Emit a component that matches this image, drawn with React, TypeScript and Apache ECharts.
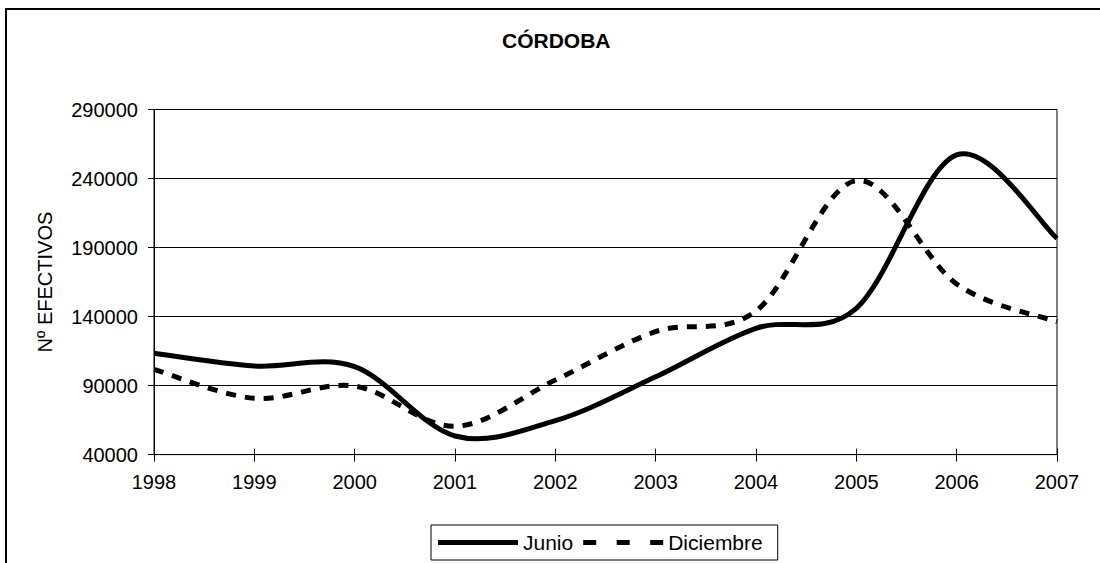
import React, { useEffect, useRef } from 'react';
import * as echarts from 'echarts';

const years = ['1998', '1999', '2000', '2001', '2002', '2003', '2004', '2005', '2006', '2007'];
const junio = [113400, 104200, 103700, 53500, 64600, 96400, 131500, 146000, 257100, 196700];
const diciembre = [101800, 80800, 89700, 60500, 94000, 129100, 144000, 238500, 163600, 136300];
const yMin = 40000;
const yMax = 290000;
const yStep = 50000;
const seriesNames = ['Junio', 'Diciembre'];
const titleText = 'CÓRDOBA';
const yName = 'Nº EFECTIVOS';

const FONT = '"Liberation Sans", Arial, Helvetica, sans-serif';

// Excel-like smoothed line (Catmull-Rom spline through the data points),
// positioned through the chart's own scales via api.coord.
function makeRender(vals: number[], dash: number[] | null) {
  return (params: any, api: any) => {
    if (params.dataIndex !== 0) return null;
    const pts = vals.map((v, k) => api.coord([k, v]));
    const n = pts.length;
    const P = (k: number) => pts[Math.max(0, Math.min(n - 1, k))];
    let d = `M${pts[0][0]},${pts[0][1]}`;
    for (let i = 0; i < n - 1; i++) {
      const p0 = P(i - 1);
      const p1 = P(i);
      const p2 = P(i + 1);
      const p3 = P(i + 2);
      const c1x = p1[0] + (p2[0] - p0[0]) / 6;
      const c1y = p1[1] + (p2[1] - p0[1]) / 6;
      const c2x = p2[0] - (p3[0] - p1[0]) / 6;
      const c2y = p2[1] - (p3[1] - p1[1]) / 6;
      d += ` C${c1x},${c1y} ${c2x},${c2y} ${p2[0]},${p2[1]}`;
    }
    const style: any = { fill: 'none', stroke: '#000', lineWidth: 5, lineCap: 'butt' };
    if (dash) style.lineDash = dash;
    return { type: 'path', shape: { pathData: d }, style };
  };
}

export default function App() {
  const ref = useRef<HTMLDivElement>(null);

  useEffect(() => {
    if (!ref.current) return;
    const chart = echarts.init(ref.current, null, { renderer: 'svg' });
    const baseX = {
      type: 'category',
      data: years,
      boundaryGap: false,
      position: 'bottom',
      splitLine: { show: false },
    };
    chart.setOption({
      animation: false,
      backgroundColor: '#ffffff',
      color: ['#000', '#000'],
      title: {
        text: titleText,
        left: 502,
        top: 30,
        padding: 0,
        textStyle: { fontFamily: FONT, fontSize: 21, fontWeight: 'bold', color: '#000' },
      },
      grid: {
        left: 154,
        right: 43,
        top: 109.5,
        bottom: 108.4,
        show: true,
        borderColor: '#000',
        borderWidth: 1,
        backgroundColor: 'transparent',
      },
      xAxis: [
        {
          ...baseX,
          axisLine: { onZero: false, show: true, lineStyle: { color: '#000', width: 1 } },
          axisTick: { show: true, inside: false, length: 7, lineStyle: { color: '#000' } },
          axisLabel: { margin: 17, fontFamily: FONT, fontSize: 20, color: '#000' },
        },
        {
          ...baseX,
          axisLine: { onZero: false, show: false },
          axisTick: { show: true, inside: true, length: 6, lineStyle: { color: '#000' } },
          axisLabel: { show: false },
        },
      ],
      yAxis: {
        type: 'value',
        min: yMin,
        max: yMax,
        interval: yStep,
        name: yName,
        nameLocation: 'middle',
        nameRotate: 90,
        nameGap: 99,
        nameTextStyle: { fontFamily: FONT, fontSize: 20, color: '#000' },
        axisLine: { show: true, lineStyle: { color: '#000', width: 1 } },
        axisTick: { show: true, inside: false, length: 6, lineStyle: { color: '#000' } },
        axisLabel: {
          margin: 16,
          fontFamily: FONT,
          fontSize: 20,
          color: '#000',
          formatter: (v: number) => String(v),
        },
        splitLine: { show: true, lineStyle: { color: '#000', width: 1 } },
      },
      legend: {
        data: [
          { name: seriesNames[0], icon: 'path://M0,0h80v5h-80z' },
          { name: seriesNames[1], icon: 'path://M0,0h13v5h-13zM33.5,0h13v5h-13zM67,0h13v5h-13z' },
        ],
        left: 431,
        top: 525,
        orient: 'horizontal',
        itemWidth: 80,
        itemHeight: 14,
        itemGap: 10,
        padding: [7, 15, 7, 7],
        borderColor: '#000',
        borderWidth: 1,
        itemStyle: { color: '#000' },
        textStyle: { fontFamily: FONT, fontSize: 21, color: '#000' },
      },
      series: [
        {
          name: seriesNames[0],
          type: 'custom',
          clip: false,
          data: junio.map((v, i) => [i, v]),
          encode: { x: 0, y: 1 },
          itemStyle: { color: '#000' },
          renderItem: makeRender(junio, null),
        },
        {
          name: seriesNames[1],
          type: 'custom',
          clip: false,
          data: diciembre.map((v, i) => [i, v]),
          encode: { x: 0, y: 1 },
          itemStyle: { color: '#000' },
          renderItem: makeRender(diciembre, [10, 9]),
        },
      ],
      graphic: [
        {
          type: 'polyline',
          silent: true,
          shape: { points: [[6, 563], [6, 9], [1100, 9]] },
          style: { stroke: '#000', lineWidth: 2, fill: 'none' },
        },
      ],
    });
    return () => chart.dispose();
  }, []);

  return (
    <div
      ref={ref}
      style={{ position: 'absolute', left: 0, top: 0, width: 1100, height: 563, background: '#fff' }}
    />
  );
}
